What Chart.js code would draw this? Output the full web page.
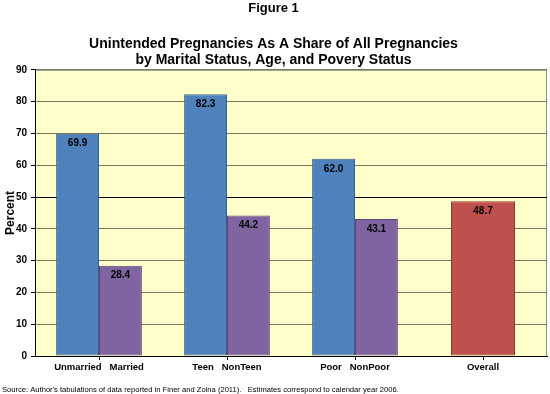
<!DOCTYPE html>
<html>
<head>
<meta charset="utf-8">
<script src="https://cdn.jsdelivr.net/npm/chart.js@4.4.1/dist/chart.umd.min.js"></script>
<style>
  html, body { margin: 0; padding: 0; background: #fff; }
  #wrap { width: 550px; height: 394px; position: relative; }
</style>
</head>
<body>
<div id="wrap"><canvas id="fig1"></canvas></div>
<script>
// Figure 1 - unintended pregnancies share, by group
const categories = ["Unmarried   Married", "Teen   NonTeen", "Poor   NonPoor", "Overall"];
const firstBars = [69.9, 82.3, 62.0, null];   // Unmarried / Teen / Poor
const secondBars = [28.4, 44.2, 43.1, null];  // Married / NonTeen / NonPoor
const overallBar = [null, null, null, 48.7];
const yMin = 0, yMax = 90, yStep = 10;

const FONT = "'Liberation Sans', Arial, Helvetica, sans-serif";
const SOURCE_TEXT = "Source: Author's tabulations of data reported in Finer and Zolna (2011).   Estimates correspond to calendar year 2006.";

// plot background + frame
const plotBg = {
  id: "plotBg",
  beforeDraw(chart) {
    const { ctx, chartArea: a } = chart;
    ctx.save();
    ctx.fillStyle = "#ffffff";
    ctx.fillRect(0, 0, chart.width, chart.height);
    ctx.fillStyle = "#ffffcc";
    ctx.fillRect(a.left, a.top, a.right - a.left, a.bottom - a.top);
    ctx.strokeStyle = "#8c8c8c";
    ctx.lineWidth = 1;
    ctx.strokeRect(a.left + 0.5, a.top + 0.5, a.right - a.left - 1, a.bottom - a.top);
    ctx.restore();
  }
};

// value labels just inside the top of each bar
const barValues = {
  id: "barValues",
  afterDatasetsDraw(chart) {
    const { ctx } = chart;
    ctx.save();
    ctx.font = "bold 10px " + FONT;
    ctx.fillStyle = "#000";
    ctx.textAlign = "center";
    ctx.textBaseline = "middle";
    chart.data.datasets.forEach((ds, i) => {
      const meta = chart.getDatasetMeta(i);
      meta.data.forEach((el, j) => {
        const v = ds.data[j];
        if (v == null) return;
        ctx.fillText(v.toFixed(1), el.x, el.y + 10);
      });
    });
    ctx.restore();
  }
};

// source note along the bottom
const sourceNote = {
  id: "sourceNote",
  afterDraw(chart) {
    const { ctx } = chart;
    ctx.save();
    ctx.font = "7.6px " + FONT;
    ctx.fillStyle = "#000";
    ctx.textAlign = "left";
    ctx.textBaseline = "middle";
    ctx.fillText(SOURCE_TEXT, 2, 390);
    ctx.restore();
  }
};

new Chart(document.getElementById("fig1"), {
  type: "bar",
  data: {
    labels: categories,
    datasets: [
      {
        label: "Group A",
        data: firstBars,
        backgroundColor: "#4f81bd",
        borderColor: "#385d8a",
        borderWidth: 1,
        borderSkipped: false,
        categoryPercentage: 0.67,
        barPercentage: 1,
        skipNull: true
      },
      {
        label: "Group B",
        data: secondBars,
        backgroundColor: "#8064a2",
        borderColor: "#5c4776",
        borderWidth: 1,
        borderSkipped: false,
        categoryPercentage: 0.67,
        barPercentage: 1,
        skipNull: true
      },
      {
        label: "Overall",
        data: overallBar,
        backgroundColor: "#c0504d",
        borderColor: "#8c3836",
        borderWidth: 1,
        borderSkipped: false,
        categoryPercentage: 0.5,
        barPercentage: 1,
        skipNull: true
      }
    ]
  },
  options: {
    responsive: true,
    maintainAspectRatio: false,
    animation: false,
    layout: { padding: { left: 0, right: 3, top: 0, bottom: 14 } },
    plugins: {
      legend: { display: false },
      tooltip: { enabled: false },
      title: {
        display: true,
        text: "Figure 1",
        color: "#000",
        font: { family: FONT, size: 13, weight: "bold" },
        padding: { top: 1, bottom: 19 }
      },
      subtitle: {
        display: true,
        text: ["Unintended Pregnancies As A Share of All Pregnancies", "by Marital Status, Age, and Povery Status"],
        color: "#000",
        font: { family: FONT, size: 14, weight: "bold", lineHeight: 1.15 },
        padding: { top: 0, bottom: 2 }
      }
    },
    scales: {
      x: {
        afterFit: (s) => { s.height = 24; },
        border: { display: true, color: "#000", width: 1 },
        grid: { display: true, offset: false, drawOnChartArea: false, drawTicks: true, tickLength: 4, color: "#000" },
        ticks: {
          color: "#000",
          font: { family: FONT, size: 9.5, weight: "bold" },
          maxRotation: 0,
          autoSkip: false,
          padding: 2
        }
      },
      y: {
        min: yMin,
        max: yMax,
        afterFit: (s) => { s.width = 35; },
        border: { display: true, color: "#000", width: 1 },
        grid: {
          color: (c) => (c.tick && c.tick.value === 50 ? "#000" : "#7a7a5e"),
          lineWidth: 1,
          tickLength: 4,
          tickColor: "#000"
        },
        ticks: {
          stepSize: yStep,
          color: "#000",
          padding: 4,
          font: { family: FONT, size: 10, weight: "bold" }
        },
        title: {
          display: true,
          text: "Percent",
          color: "#000",
          font: { family: FONT, size: 12, weight: "bold" },
          padding: { top: 3, bottom: 0 }
        }
      }
    }
  },
  plugins: [plotBg, barValues, sourceNote]
});
</script>
</body>
</html>
